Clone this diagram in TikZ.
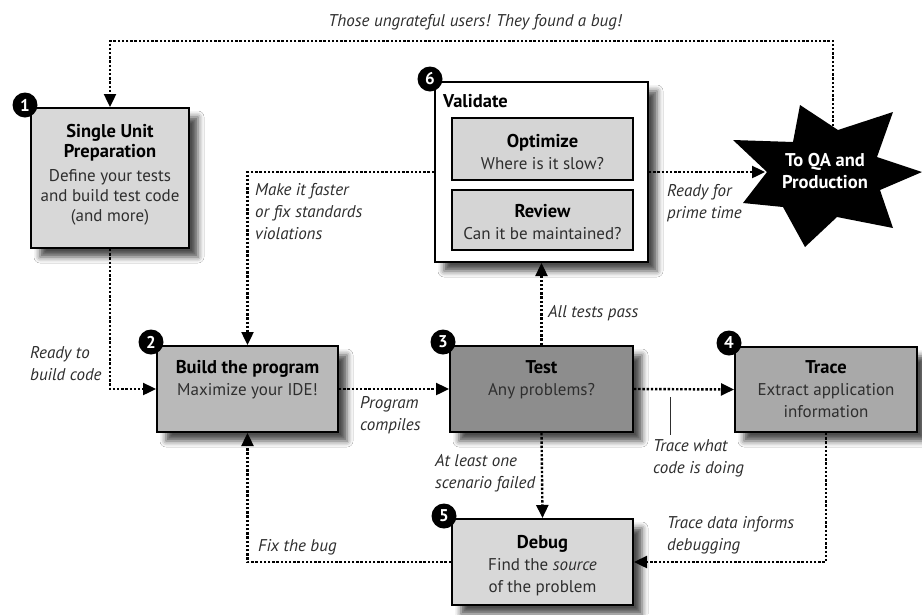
\documentclass[tikz,border=0pt]{standalone}
\usepackage{fontspec}
\setmainfont{PT Sans}
\usetikzlibrary{arrows.meta,shadows.blur}

\definecolor{paleGray}{HTML}{D8D8D8}
\definecolor{midGray}{HTML}{B9B9B9}
\definecolor{darkGray}{HTML}{8D8D8D}
\definecolor{traceGray}{HTML}{A9A9A9}
\definecolor{innerGray}{HTML}{D5D5D5}
\definecolor{inkGray}{HTML}{2E2E2E}

% bold heading inside a stage box
\newcommand\stagetitle[1]{{\bfseries\fontsize{18.5}{22}\selectfont\color{black}#1}}

\begin{document}
\begin{tikzpicture}[x=1pt,y=-1pt,
  stage/.style={draw=black, line width=2pt, inner sep=0pt},
  softshadow/.style={blur shadow={shadow xshift=9pt, shadow yshift=-9pt,
      shadow blur radius=6pt, shadow opacity=70}},
  badge/.style={circle, fill=black, minimum size=25pt, inner sep=0pt,
      text=white, font=\bfseries\fontsize{17}{17}\selectfont},
  flow/.style={line width=2.4pt, dash pattern=on 2.4pt off 1.8pt,
      -{Triangle[length=13pt,width=12pt]}},
  note/.style={font=\itshape\fontsize{17}{22}\selectfont, text=inkGray,
      align=left, inner sep=0pt, anchor=west},
  boxtext/.style={font=\fontsize{17}{22}\selectfont, text=inkGray,
      align=center, inner sep=0pt},
]
\useasboundingbox[fill=white] (0,0) rectangle (922,614);

% ---- stage boxes ----
\node[stage, fill=paleGray, softshadow, minimum width=158pt, minimum height=140pt] (prep) at (110,178) {};
\node[stage, fill=midGray, softshadow, minimum width=181pt, minimum height=86pt] (build) at (247.5,389) {};
\node[stage, fill=darkGray, softshadow, minimum width=183pt, minimum height=86pt] (test) at (541.5,389) {};
\node[stage, fill=traceGray, softshadow, minimum width=182pt, minimum height=85pt] (trace) at (826,389.5) {};
\node[stage, fill=paleGray, softshadow, minimum width=181pt, minimum height=86pt] (debug) at (542.5,562) {};
\node[stage, fill=white, softshadow, minimum width=213pt, minimum height=180pt] (validate) at (541.5,172) {};
\node[stage, fill=innerGray, minimum width=181pt, minimum height=62pt] (optimize) at (542.5,149) {};
\node[stage, fill=innerGray, minimum width=181pt, minimum height=60pt] (review) at (542.5,220) {};

% ---- box texts ----
\node[boxtext, font=\fontsize{17}{20}\selectfont] (prepText) at (110,175)
  {\stagetitle{Single Unit}\\\stagetitle{Preparation}\\[4pt]Define your tests\\and build test code\\(and more)};
\node[boxtext, anchor=north] (buildText) at (247.5,360)
  {\stagetitle{Build the program}\\Maximize your IDE!};
\node[boxtext, anchor=north] (testText) at (541.5,360)
  {\stagetitle{Test}\\Any problems?};
\node[boxtext, anchor=north] (traceText) at (826,360)
  {\stagetitle{Trace}\\Extract application\\information};
\node[boxtext] (debugText) at (542.5,566)
  {\stagetitle{Debug}\\Find the \textit{source}\\of the problem};
\node[boxtext, anchor=west] (validateText) at (443,101) {\stagetitle{Validate}};
\node[boxtext] (optimizeText) at (542.5,152)
  {\stagetitle{Optimize}\\Where is it slow?};
\node[boxtext] (reviewText) at (542.5,222)
  {\stagetitle{Review}\\Can it be maintained?};

% ---- numbered badges ----
\node[badge] (b1) at (25,105) {1};
\node[badge] (b2) at (151,342) {2};
\node[badge] (b3) at (443,342) {3};
\node[badge] (b4) at (729,343) {4};
\node[badge] (b5) at (444,516) {5};
\node[badge] (b6) at (430,79) {6};

% ---- release burst ----
\fill[black] (733,140) -- (793,142) -- (800,105) -- (838,130) -- (893,112)
  -- (877,157) -- (922,172) -- (880,190) -- (893,228) -- (837,217)
  -- (805,247) -- (783,207) -- (743,203) -- (767,172) -- cycle;
\node[font=\bfseries\fontsize{18.5}{22}\selectfont, text=white, align=center] (qa) at (825,171)
  {To QA and\\Production};
\coordinate (qaTop) at (833,126);
\coordinate (qaLeft) at (765,172);
\coordinate (loopR) at (833,41);
\coordinate (loopL) at (110,41);

% ---- connectors ----
\draw[flow] (qaTop) -- (loopR) -- (loopL) -- (prep.north);
\draw[flow] (prep.south) |- (build.west);
\draw[flow] (validate.west) -| (build.north);
\draw[flow] (build.east) -- (test.west);
\draw[flow] (test.north) -- (validate.south);
\draw[flow] (validate.east) -- (qaLeft);
\draw[flow] (test.east) -- (trace.west);
\draw[flow] (test.south) -- (debug.north);
\draw[flow] (trace.south) |- (debug.east);
\draw[flow] (debug.west) -| (build.south);

% leader for the trace note
\coordinate (leadTop) at (670,397);
\coordinate (leadBot) at (670,435);
\draw[line width=0.9pt, inkGray] (leadTop) -- (leadBot);

% ---- connector notes ----
\node[note, anchor=center] (bugNote) at (475,22) {Those ungrateful users! They found a bug!};
\node[note, anchor=north west] (fasterNote) at (255,183) {Make it faster\\or fix standards\\violations};
\node[note, anchor=north west] (primeNote) at (667,184) {Ready for\\prime time};
\node[note, anchor=north west] (readyNote) at (30,346) {Ready to\\build code};
\node[note, anchor=north west] (compilesNote) at (360,396) {Program\\compiles};
\node[note] (passNote) at (548,313) {All tests pass};
\node[note, anchor=north west] (failNote) at (435,454) {At least one\\scenario failed};
\node[note, anchor=north west] (traceNote) at (653,439) {Trace what\\code is doing};
\node[note, anchor=north west] (informNote) at (667,516) {Trace data informs\\debugging};
\node[note] (fixNote) at (258,547) {Fix the bug};
\end{tikzpicture}
\end{document}
